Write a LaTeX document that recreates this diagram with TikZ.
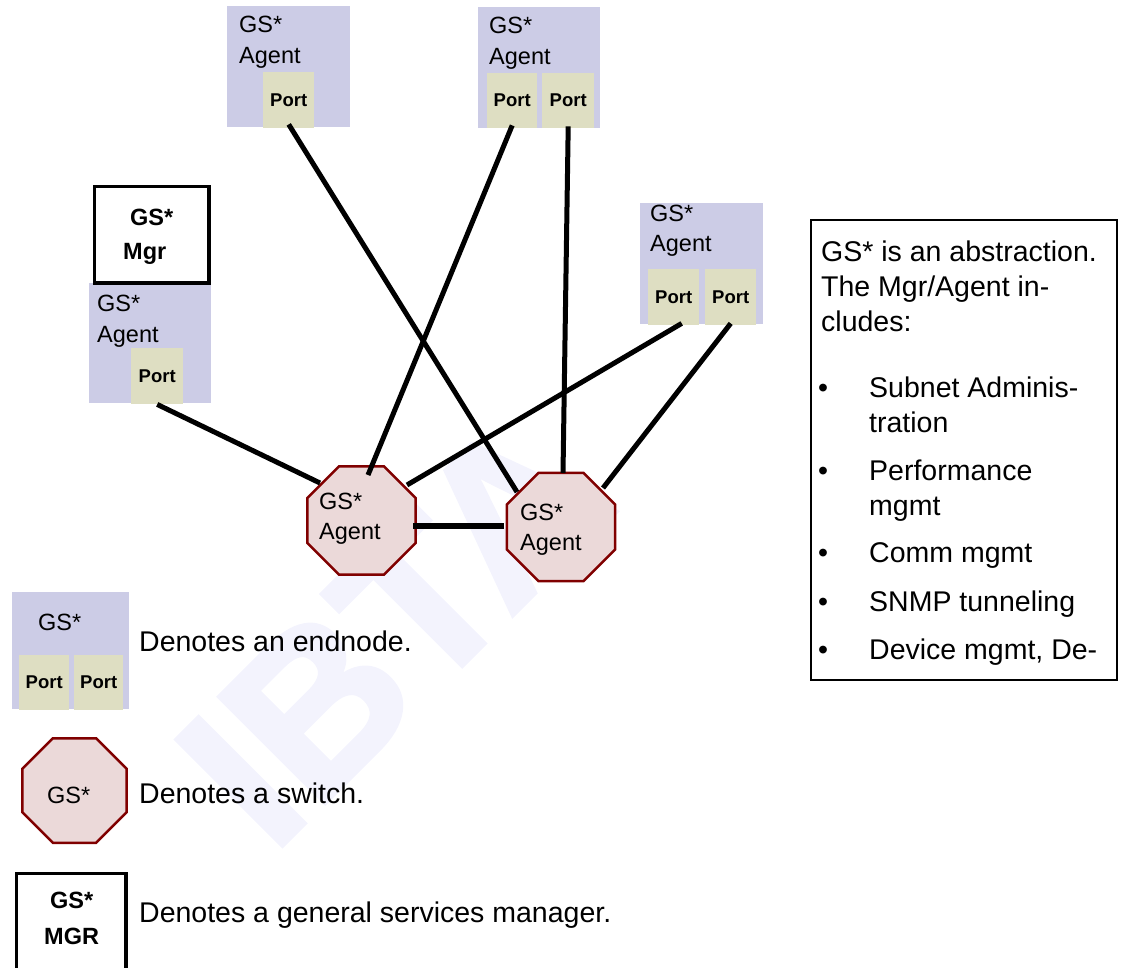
\documentclass[tikz,border=0pt]{standalone}
\usepackage{fontspec}
\setmainfont{Liberation Sans}
\newfontfamily\wmfont{Liberation Sans}[BoldFeatures={FakeBold=2}]
\usetikzlibrary{shapes.geometric,calc}
\definecolor{lav}{RGB}{204,204,230}
\definecolor{portc}{RGB}{222,222,194}
\definecolor{octfill}{RGB}{235,217,217}
\definecolor{octline}{RGB}{128,0,0}
\definecolor{wmark}{RGB}{243,243,253}
\begin{document}
\begin{tikzpicture}[x=1pt,y=-1pt,
  endbox/.style={rectangle, fill=lav, inner sep=0, anchor=north west},
  portbox/.style={rectangle, fill=portc, inner sep=0, anchor=north west, font=\fontsize{18.5}{20}\selectfont\bfseries},
  lbl/.style={anchor=base west, inner sep=0, font=\fontsize{23.5}{28}\selectfont},
  blbl/.style={anchor=base west, inner sep=0, font=\fontsize{23.5}{28}\selectfont\bfseries},
  body/.style={anchor=base west, inner sep=0, font=\fontsize{28.5}{36}\selectfont},
  switchnode/.style={regular polygon, regular polygon sides=8, draw=octline, fill=octfill, line width=2.5pt, inner sep=0, minimum size=117.4pt},
  mgrbox/.style={rectangle, draw=black, fill=white, line width=3.5pt, inner sep=0, anchor=north west},
  link/.style={line width=5pt},
]
\useasboundingbox (0,0) rectangle (1123,967);

% watermark
\node[rotate=45, anchor=base west, inner sep=0, text=wmark, font=\fontsize{218}{218}\wmfont\bfseries] (wm) at (272,856) {IBTA};

% endnode boxes
\node[endbox, minimum width=123pt, minimum height=121pt] (e1) at (227,6) {};
\node[portbox, minimum width=51pt, minimum height=56pt] (p1) at (263,72) {Port};

\node[endbox, minimum width=122pt, minimum height=121pt] (e2) at (478,7) {};
\node[portbox, minimum width=50pt, minimum height=55pt] (p2a) at (487,73) {Port};
\node[portbox, minimum width=52pt, minimum height=55pt] (p2b) at (542,73) {Port};

\node[endbox, minimum width=123pt, minimum height=121pt] (e3) at (640,203) {};
\node[portbox, minimum width=51pt, minimum height=56pt] (p3a) at (648,269) {Port};
\node[portbox, minimum width=51pt, minimum height=56pt] (p3b) at (705,269) {Port};

\node[endbox, minimum width=122pt, minimum height=120pt] (e4) at (89,283) {};
\node[portbox, minimum width=52pt, minimum height=56pt] (p4) at (131,348) {Port};
\node[mgrbox, minimum width=114.5pt, minimum height=96.5pt] (mgr) at (92.75,184.75) {};

% switches
\node[switchnode] (sw1) at (361.5,520.5) {};
\node[switchnode] (sw2) at (561,527) {};

% links
\draw[link] ([yshift=4pt]p1.south) -- ($(sw2.center)+(-44,-35)$);
\draw[link] ([yshift=3pt]p2a.south) -- ($(sw1.center)+(6.5,-45.5)$);
\draw[link] ([yshift=2pt]p2b.south) -- ($(sw2.center)+(2,-54)$);
\draw[link] ([xshift=8pt,yshift=2pt]p3a.south) -- ($(sw1.center)+(45.5,-35.5)$);
\draw[link] ([yshift=2pt]p3b.south) -- ($(sw2.center)+(42,-39)$);
\draw[link] (p4.south) -- ($(sw1.center)+(-41.5,-37.5)$);
\draw[link, line width=6pt] ($(sw1.center)+(51.5,5.5)$) -- ($(sw2.center)+(-57,-1)$);

% node labels
\node[lbl] (t1a) at (239,32) {GS*};
\node[lbl] (t1b) at (239,63) {Agent};
\node[lbl] (t2a) at (489,33) {GS*};
\node[lbl] (t2b) at (489,64) {Agent};
\node[lbl] (t3a) at (650,221) {GS*};
\node[lbl] (t3b) at (650,251) {Agent};
\node[lbl] (t4a) at (97,311) {GS*};
\node[lbl] (t4b) at (97,342) {Agent};
\node[blbl] (m1) at (130,225) {GS*};
\node[blbl] (m2) at (123,259) {Mgr};
\node[lbl] (s1a) at (319,509) {GS*};
\node[lbl] (s1b) at (319,539) {Agent};
\node[lbl] (s2a) at (520,520) {GS*};
\node[lbl] (s2b) at (520,550) {Agent};

% legend
\node[endbox, minimum width=117pt, minimum height=117pt] (le) at (12,592) {};
\node[portbox, minimum width=50pt, minimum height=55pt] (lp1) at (19,655) {Port};
\node[portbox, minimum width=49pt, minimum height=55pt] (lp2) at (74,655) {Port};
\node[lbl] (let) at (38,630) {GS*};
\node[switchnode, minimum size=113.1pt] (lsw) at (74.5,790.5) {};
\node[lbl] (lst) at (47,803) {GS*};
\node[mgrbox, minimum width=109.5pt, minimum height=140pt] (lm) at (14.75,871.75) {};
\node[blbl] (lm1) at (50,908) {GS*};
\node[blbl] (lm2) at (44,944) {MGR};
\node[body] (d1) at (139,651) {Denotes an endnode.};
\node[body] (d2) at (139,803) {Denotes a switch.};
\node[body] (d3) at (139,922) {Denotes a general services manager.};

% info box
\node[rectangle, draw=black, line width=2pt, inner sep=0, anchor=north west, minimum width=306pt, minimum height=460pt] (info) at (810,219) {};
\node[body] (i1) at (821,261) {GS* is an abstraction.};
\node[body] (i2) at (821,296) {The Mgr/Agent in-};
\node[body] (i3) at (821,331) {cludes:};
\node[body] (b1) at (818,397) {•};
\node[body] (b2) at (818,480) {•};
\node[body] (b3) at (818,562) {•};
\node[body] (b4) at (818,611) {•};
\node[body] (b5) at (818,659) {•};
\node[body] (j1) at (869,397) {Subnet Adminis-};
\node[body] (j1b) at (869,432) {tration};
\node[body] (j2) at (869,480) {Performance};
\node[body] (j2b) at (869,515) {mgmt};
\node[body] (j3) at (869,562) {Comm mgmt};
\node[body] (j4) at (869,611) {SNMP tunneling};
\node[body] (j5) at (869,659) {Device mgmt, De-};
\end{tikzpicture}
\end{document}
